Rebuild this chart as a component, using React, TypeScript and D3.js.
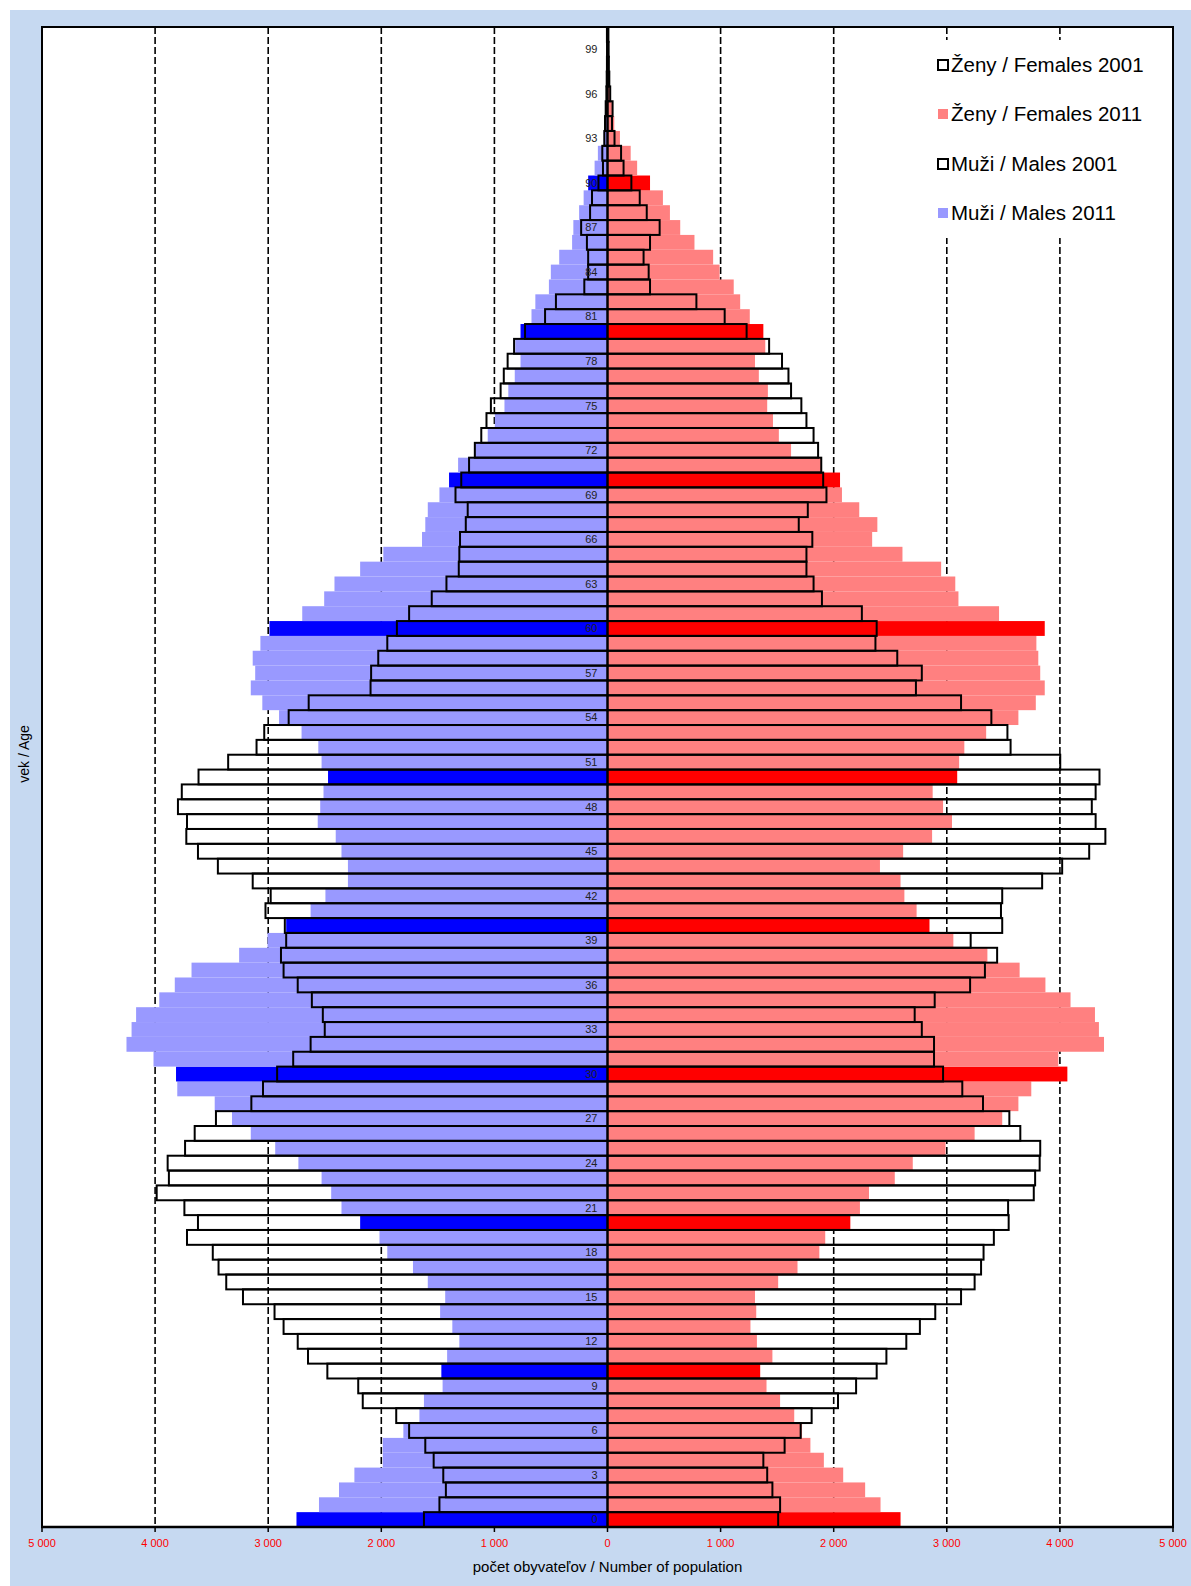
import React from 'react';
import * as d3 from 'd3';

// ages 0..100 (bottom to top)
const ages: number[] = d3.range(0, 101);

const males2011: number[] = [
  2750, 2551, 2374, 2238, 1987, 1987, 1805, 1663, 1623, 1458,
  1469, 1418, 1310, 1372, 1480, 1435, 1589, 1720, 1947, 2016,
  2187, 2352, 2443, 2528, 2733, 2938, 3154, 3320, 3473, 3804,
  3815, 4014, 4253, 4208, 4168, 3963, 3826, 3678, 3257, 3006,
  2841, 2625, 2494, 2295, 2295, 2352, 2403, 2562, 2540, 2511,
  2471, 2528, 2557, 2705, 2904, 3052, 3154, 3115, 3137, 3069,
  2989, 2699, 2505, 2414, 2187, 1982, 1640, 1611, 1589, 1486,
  1401, 1321, 1173, 1059, 996, 911, 877, 820, 769, 815,
  769, 672, 638, 518, 501, 427, 313, 302, 251, 211,
  171, 114, 85, 35, 25, 15, 10, 6, 4, 3, 3,
];

const males2001: number[] = [
  1623, 1486, 1429, 1452, 1537, 1611, 1754, 1868, 2164, 2204,
  2477, 2648, 2739, 2864, 2944, 3223, 3371, 3439, 3490, 3718,
  3621, 3741, 3986, 3878, 3889, 3735, 3650, 3462, 3149, 3046,
  2921, 2779, 2625, 2500, 2517, 2614, 2739, 2864, 2887, 2841,
  2853, 3024, 2978, 3137, 3445, 3621, 3724, 3718, 3798, 3764,
  3616, 3354, 3103, 3035, 2819, 2642, 2095, 2090, 2027, 1947,
  1862, 1754, 1554, 1424, 1315, 1310, 1304, 1253, 1236, 1344,
  1293, 1224, 1173, 1116, 1070, 1031, 945, 917, 883, 826,
  729, 552, 456, 205, 171, 171, 182, 233, 154, 137,
  80, 40, 46, 28, 22, 16, 10, 7, 5, 4, 5,
];

const females2011: number[] = [
  2591, 2414, 2278, 2084, 1913, 1794, 1720, 1651, 1526, 1406,
  1350, 1458, 1321, 1264, 1315, 1304, 1509, 1680, 1873, 1925,
  2147, 2232, 2312, 2540, 2699, 2989, 3246, 3490, 3633, 3747,
  4066, 3986, 4390, 4345, 4310, 4094, 3872, 3644, 3359, 3058,
  2847, 2733, 2625, 2591, 2409, 2614, 2870, 3046, 2967, 2875,
  3092, 3109, 3155, 3348, 3633, 3787, 3866, 3826, 3809, 3792,
  3866, 3462, 3103, 3075, 2950, 2608, 2340, 2386, 2226, 2073,
  2056, 1895, 1623, 1515, 1463, 1412, 1418, 1338, 1304, 1395,
  1378, 1258, 1173, 1116, 991, 934, 769, 643, 552, 490,
  376, 262, 205, 110, 60, 40, 25, 18, 12, 10, 8,
];

const females2001: number[] = [
  1509, 1526, 1458, 1412, 1378, 1566, 1708, 1805, 2038, 2198,
  2380, 2466, 2642, 2762, 2898, 3126, 3246, 3303, 3325, 3416,
  3547, 3542, 3769, 3781, 3821, 3826, 3650, 3553, 3320, 3137,
  2967, 2887, 2887, 2779, 2716, 2893, 3206, 3337, 3445, 3211,
  3490, 3479, 3490, 3843, 4020, 4259, 4402, 4316, 4282, 4316,
  4350, 4003, 3564, 3536, 3394, 3126, 2727, 2779, 2562, 2369,
  2380, 2249, 1896, 1822, 1759, 1759, 1811, 1691, 1771, 1936,
  1907, 1890, 1862, 1822, 1759, 1714, 1623, 1600, 1543, 1429,
  1230, 1036, 786, 376, 364, 319, 376, 461, 347, 285,
  211, 142, 120, 62, 40, 45, 24, 16, 12, 10, 8,
];

const highlightAges: number[] = [0, 10, 20, 30, 40, 50, 60, 70, 80, 90];
const ageLabelValues: number[] = [0, 3, 6, 9, 12, 15, 18, 21, 24, 27, 30, 33, 36, 39, 42, 45, 48, 51, 54, 57, 60, 63, 66, 69, 72, 75, 78, 81, 84, 87, 90, 93, 96, 99];
const xTicks: number[] = [-5000, -4000, -3000, -2000, -1000, 0, 1000, 2000, 3000, 4000, 5000];
const gridTicks: number[] = [-4000, -3000, -2000, -1000, 1000, 2000, 3000, 4000];

const legendLabels: string[] = ['Ženy / Females 2001', 'Ženy / Females 2011', 'Muži / Males 2001', 'Muži / Males 2011'];
const legendFills: string[] = ['#ffffff', '#ff8080', '#ffffff', '#9999ff'];
const legendOutlined: boolean[] = [true, false, true, false];

const COL = {
  bg: '#c6d9f1',
  maleLight: '#9999ff',
  maleDark: '#0000ff',
  femaleLight: '#ff8080',
  femaleDark: '#ff0000',
};

const FONT = 'Liberation Sans, Arial, Helvetica, sans-serif';

export default function App() {
  const W = 1191;
  const H = 1586;
  const plotL = 42;
  const plotR = 1173;
  const plotT = 27;
  const plotB = 1527;

  const x = d3.scaleLinear().domain([-5000, 5000]).range([plotL, plotR]);
  const y = d3.scaleBand<number>().domain([...ages].reverse()).range([plotT, plotB]).padding(0);
  const bw = y.bandwidth();
  const fmt = (v: number) => (Math.abs(v) === 0 ? '0' : d3.format(',')(Math.abs(v)).replace(/,/g, ' '));
  const isHi = (a: number) => highlightAges.includes(a);

  const legX = 922;
  const legY = 40;
  const legW = plotR - 1 - legX;
  const legH = 198;
  const legRowY = [65, 114, 164, 213];

  return (
    <svg width={W} height={H} style={{ position: 'absolute', left: 0, top: 0 }} xmlns="http://www.w3.org/2000/svg">
      <rect x={0} y={0} width={W} height={H} fill="#ffffff" />
      <rect x={10} y={10} width={W - 10} height={H - 10} fill={COL.bg} />
      <rect x={plotL} y={plotT} width={plotR - plotL} height={plotB - plotT} fill="#ffffff" />

      {/* gridlines */}
      {gridTicks.map((t) => (
        <line key={'g' + t} x1={x(t)} x2={x(t)} y1={plotT} y2={plotB} stroke="#000" strokeWidth={1.6} strokeDasharray="7,3" />
      ))}

      {/* 2011 filled bars */}
      {ages.map((a, i) => (
        <g key={'b11' + a}>
          <rect x={x(-males2011[i])} y={y(a)} width={x(0) - x(-males2011[i])} height={bw} fill={isHi(a) ? COL.maleDark : COL.maleLight} />
          <rect x={x(0)} y={y(a)} width={x(females2011[i]) - x(0)} height={bw} fill={isHi(a) ? COL.femaleDark : COL.femaleLight} />
        </g>
      ))}

      {/* 2001 outline bars */}
      {ages.map((a, i) => (
        <g key={'b01' + a}>
          <rect x={x(-males2001[i])} y={y(a)} width={x(0) - x(-males2001[i])} height={bw} fill="none" stroke="#000" strokeWidth={2} />
          <rect x={x(0)} y={y(a)} width={x(females2001[i]) - x(0)} height={bw} fill="none" stroke="#000" strokeWidth={2} />
        </g>
      ))}

      {/* legend */}
      <rect x={legX} y={legY} width={legW} height={legH} fill="#ffffff" />
      {legendLabels.map((lab, i) => (
        <g key={'l' + i}>
          <rect x={938} y={legRowY[i] - 5} width={10} height={10} fill={legendFills[i]} stroke={legendOutlined[i] ? '#000' : 'none'} strokeWidth={legendOutlined[i] ? 2 : 0} />
          <text x={951} y={legRowY[i]} dy="0.35em" fontFamily={FONT} fontSize={20.5} fill="#000">{lab}</text>
        </g>
      ))}

      {/* age labels */}
      {ageLabelValues.map((a) => (
        <text key={'a' + a} x={x(0) - 10} y={(y(a) as number) + bw / 2} dy="0.35em" textAnchor="end" fontFamily={FONT} fontSize={11} fill="#222">{a}</text>
      ))}

      {/* plot border */}
      <rect x={plotL} y={plotT} width={plotR - plotL} height={plotB - plotT} fill="none" stroke="#000" strokeWidth={2} />
      <line x1={plotL - 1} x2={plotR + 1} y1={plotB} y2={plotB} stroke="#000" strokeWidth={2.5} />

      {/* ticks */}
      {xTicks.map((t) => (
        <g key={'t' + t}>
          <line x1={x(t)} x2={x(t)} y1={plotB} y2={plotB + 5} stroke="#000" strokeWidth={1.5} />
          <text x={x(t)} y={plotB + 16} dy="0.35em" textAnchor="middle" fontFamily={FONT} fontSize={11} fill="#ff0000">{fmt(t)}</text>
        </g>
      ))}

      <text x={x(0)} y={1567} dy="0.35em" textAnchor="middle" fontFamily={FONT} fontSize={15} fill="#000">počet obyvateľov / Number of population</text>
      <text transform={`translate(24,754) rotate(-90)`} dy="0.35em" textAnchor="middle" fontFamily={FONT} fontSize={14} fill="#000">vek / Age</text>
    </svg>
  );
}
